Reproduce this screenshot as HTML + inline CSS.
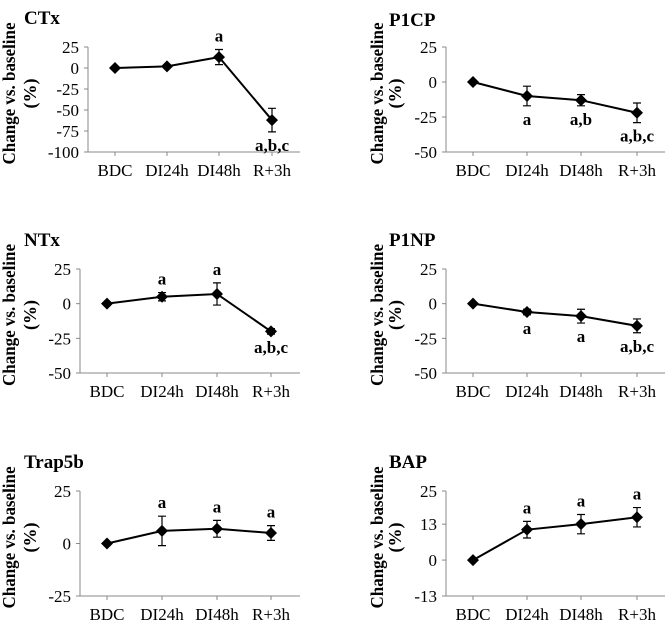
<!DOCTYPE html>
<html><head><meta charset="utf-8"><style>
html,body{margin:0;padding:0;background:#fff;}
svg{display:block;font-family:"Liberation Serif",serif;}
</style></head><body>
<svg id="chart" width="667" height="621" viewBox="0 0 667 621" xmlns="http://www.w3.org/2000/svg"></svg>
<script>
const categories = ["BDC","DI24h","DI48h","R+3h"];
const ctxValues = [0,2,13,-62];
const ctxErrors = [0,1,9,14];
const ctxSig = ["","","a","a,b,c"];
const ctxTicks = [25,0,-25,-50,-75,-100];
const p1cpValues = [0,-10,-13,-22];
const p1cpErrors = [0,7,4,7];
const p1cpSig = ["","a","a,b","a,b,c"];
const p1cpTicks = [25,0,-25,-50];
const ntxValues = [0,5,7,-20];
const ntxErrors = [0,3,8,2];
const ntxSig = ["","a","a","a,b,c"];
const ntxTicks = [25,0,-25,-50];
const p1npValues = [0,-6,-9,-16];
const p1npErrors = [0,2,5,5];
const p1npSig = ["","a","a","a,b,c"];
const p1npTicks = [25,0,-25,-50];
const trapValues = [0,6,7,5];
const trapErrors = [0,7,4,3.5];
const trapSig = ["","a","a","a"];
const trapTicks = [25,0,-25];
const bapValues = [0,11,13,15.5];
const bapErrors = [0,3,3.5,3.5];
const bapSig = ["","a","a","a"];
const bapTicks = [25,13,0,-13];

const NS="http://www.w3.org/2000/svg";
const svg=document.getElementById('chart');
function mk(tag,attrs,parent){const e=document.createElementNS(NS,tag);for(const k in attrs)e.setAttribute(k,attrs[k]);(parent||svg).appendChild(e);return e;}

const panels=[
 {title:"CTx",key:"ctx",vals:ctxValues,errs:ctxErrors,sig:ctxSig,ticks:ctxTicks,ax:88,top:47,bot:152,cx:[115,167,219,272],xr:300,tx:24,ty:24,yt:9,yp:30,below:false},
 {title:"P1CP",key:"p1cp",vals:p1cpValues,errs:p1cpErrors,sig:p1cpSig,ticks:p1cpTicks,ax:446,top:47,bot:152,cx:[473,527,581,637],xr:665,tx:389,ty:26,yt:377,yp:395,below:true},
 {title:"NTx",key:"ntx",vals:ntxValues,errs:ntxErrors,sig:ntxSig,ticks:ntxTicks,ax:80,top:269,bot:373,cx:[107,162,217,271],xr:300,tx:24,ty:246,yt:9,yp:30,below:false},
 {title:"P1NP",key:"p1np",vals:p1npValues,errs:p1npErrors,sig:p1npSig,ticks:p1npTicks,ax:446,top:269,bot:373,cx:[473,527,581,637],xr:665,tx:389,ty:246,yt:377,yp:395,below:true},
 {title:"Trap5b",key:"trap5b",vals:trapValues,errs:trapErrors,sig:trapSig,ticks:trapTicks,ax:80,top:491,bot:596,cx:[107,162,217,271],xr:300,tx:24,ty:468,yt:9,yp:30,below:false},
 {title:"BAP",key:"bap",vals:bapValues,errs:bapErrors,sig:bapSig,ticks:bapTicks,ax:446,top:491,bot:596,cx:[473,527,581,637],xr:665,tx:389,ty:468,yt:377,yp:395,below:false}
];

panels.forEach(p=>{
  const g=mk('g',{});
  
  
  const tmax=Math.max(...p.ticks), tmin=Math.min(...p.ticks);
  const y=v=>p.bot-(v-tmin)/(tmax-tmin)*(p.bot-p.top);
  const x=i=>p.cx[i];
  const t=mk('text',{x:p.tx,y:p.ty,'font-size':19,'font-weight':'bold',fill:'#000'},g);t.textContent=p.title;
  
  
  const midY=(p.top+p.bot)/2-6;
  const yt=mk('text',{x:0,y:0,'font-size':18,'font-weight':'bold','text-anchor':'middle',textLength:142,lengthAdjust:'spacingAndGlyphs',transform:`translate(${p.yt+6},${midY}) rotate(-90)`},g);yt.textContent="Change  vs. baseline";
  
  
  const yp=mk('text',{x:0,y:0,'font-size':18,'font-weight':'bold','text-anchor':'middle',transform:`translate(${p.yp+6},${midY}) rotate(-90)`},g);yp.textContent="(%)";
  
  
  const ya=mk('line',{x1:p.ax,y1:p.top,x2:p.ax,y2:p.bot,stroke:'#888','stroke-width':1},g);
  
  
  const xa=mk('line',{x1:p.ax,y1:p.bot,x2:p.xr,y2:p.bot,stroke:'#888','stroke-width':1},g);
  
  
  p.ticks.forEach(tv=>{
    mk('line',{x1:p.ax-4,y1:y(tv),x2:p.ax,y2:y(tv),stroke:'#888'},g);
    const tl=mk('text',{x:p.ax-9,y:y(tv)+6,'font-size':17,'text-anchor':'end'},g);tl.textContent=tv;
    
    
  });
  categories.forEach((c,i)=>{
    mk('line',{x1:x(i),y1:p.bot,x2:x(i),y2:p.bot+4,stroke:'#888'},g);
    const cl=mk('text',{x:x(i),y:p.bot+24,'font-size':17,'text-anchor':'middle'},g);cl.textContent=c;
    
    
  });
  const line=mk('polyline',{points:p.vals.map((v,i)=>x(i)+','+y(v)).join(' '),fill:'none',stroke:'#000','stroke-width':2},g);
  
  
  p.vals.forEach((v,i)=>{
    const e=p.errs[i];
    if(e>0){
      const eb=mk('path',{d:`M${x(i)},${y(v+e)}V${y(v-e)}M${x(i)-4},${y(v+e)}H${x(i)+4}M${x(i)-4},${y(v-e)}H${x(i)+4}`,stroke:'#000','stroke-width':1.2,fill:'none'},g);
      
      
    }
    const px=x(i),py=y(v);
    const d=mk('polygon',{points:`${px},${py-6} ${px+6},${py} ${px},${py+6} ${px-6},${py}`,fill:'#000'},g);
    
    
    if(p.sig[i]){
      const below = p.below || (p.key==='ctx'||p.key==='ntx') && i===3;
      const sy = below ? y(v-e)+19 : y(v+e)-8;
      const s=mk('text',{x:px,y:sy,'font-size':17,'font-weight':'bold','text-anchor':'middle'},g);s.textContent=p.sig[i];
      
      
    }
  });
});
</script>
</body></html>
